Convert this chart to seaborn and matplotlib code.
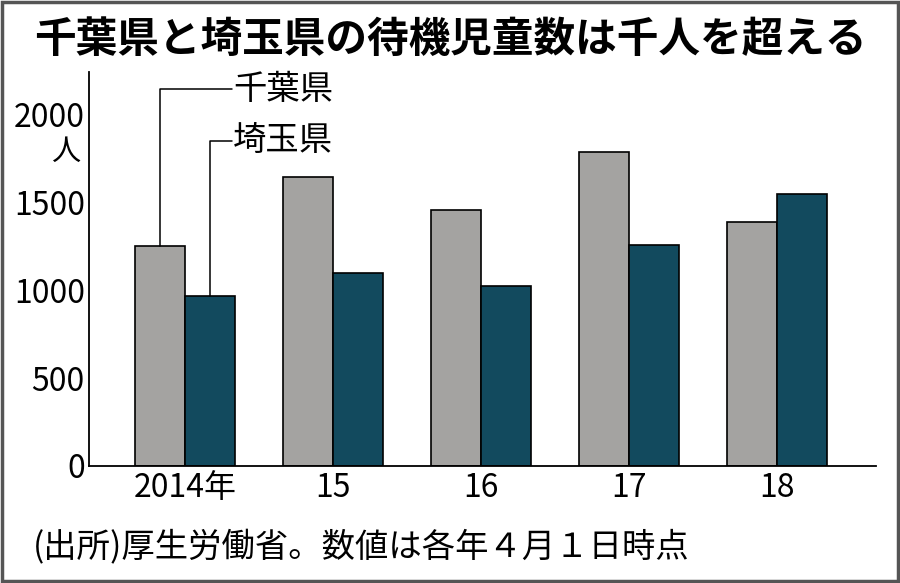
import matplotlib
matplotlib.use("Agg")
import matplotlib.pyplot as plt
import seaborn as sns
import pandas as pd
from matplotlib.patches import Rectangle

years = ["2014年", "15", "16", "17", "18"]
chiba = [1251, 1646, 1460, 1787, 1392]
saitama = [966, 1097, 1026, 1258, 1552]
series = ["千葉県", "埼玉県"]
yticks = [0, 500, 1000, 1500, 2000]

sns.set_theme(style="white")
plt.rcParams['font.family'] = ['Noto Sans CJK JP', 'DejaVu Sans']

df = pd.DataFrame({
    "year": years * 2,
    "value": chiba + saitama,
    "pref": [series[0]] * len(years) + [series[1]] * len(years),
})

fig = plt.figure(figsize=(9, 5.83), dpi=100)
ax = fig.add_axes([89/900, 1-466/583, 787/900, (466-72)/583])

W = 0.676
sns.barplot(data=df, x="year", y="value", hue="pref", hue_order=series,
            order=years, palette=["#a4a3a1", "#124a5e"], width=W, dodge=True,
            edgecolor="black", linewidth=1.2, legend=False, ax=ax, saturation=1)

ax.set_xlim(-0.649, 4.669)
ax.set_ylim(0, 2245)
ax.set_xlabel("")
ax.set_ylabel("")
ax.set_yticks(yticks)
ax.set_yticklabels([str(v) for v in yticks], fontsize=23)
ax.set_xticks(range(len(years)))
ax.set_xticklabels(years, fontsize=23)
for s in ["top", "right"]:
    ax.spines[s].set_visible(False)
for s in ["left", "bottom"]:
    ax.spines[s].set_color("black")
    ax.spines[s].set_linewidth(1.3)
ax.tick_params(axis="y", direction="in", length=7, width=1.2, color="black", pad=3, labelcolor="black")
ax.tick_params(axis="x", length=0, pad=4, labelcolor="black")

ax.text(-0.011, 1790, "人", transform=ax.get_yaxis_transform(), ha="right", va="center",
        fontsize=21, color="black")

# series labels with leader lines
off = W / 4
lx = 0.318
ax.plot([-off, -off, lx], [chiba[0], 2148, 2148], color="black", lw=1.1, clip_on=False)
ax.plot([off, off, lx], [saitama[0], 1852, 1852], color="black", lw=1.1, clip_on=False)
ax.text(lx + 0.005, 2148, series[0], ha="left", va="center", fontsize=24, color="black")
ax.text(lx + 0.005, 1852, series[1], ha="left", va="center", fontsize=24, color="black")

fig.text(0.5, 1-40/583, "千葉県と埼玉県の待機児童数は千人を超える", ha="center", va="center",
         fontsize=30, fontweight="bold", color="black")
fig.text(33/900, 1-548/583, "(出所)厚生労働省。数値は各年４月１日時点", ha="left", va="center",
         fontsize=24, color="black")

fig.patches.append(Rectangle((0.002, 0.003), 0.996, 0.994, transform=fig.transFigure,
                             fill=False, edgecolor="#555555", linewidth=2.5))

fig.savefig("out.png", dpi=100)
